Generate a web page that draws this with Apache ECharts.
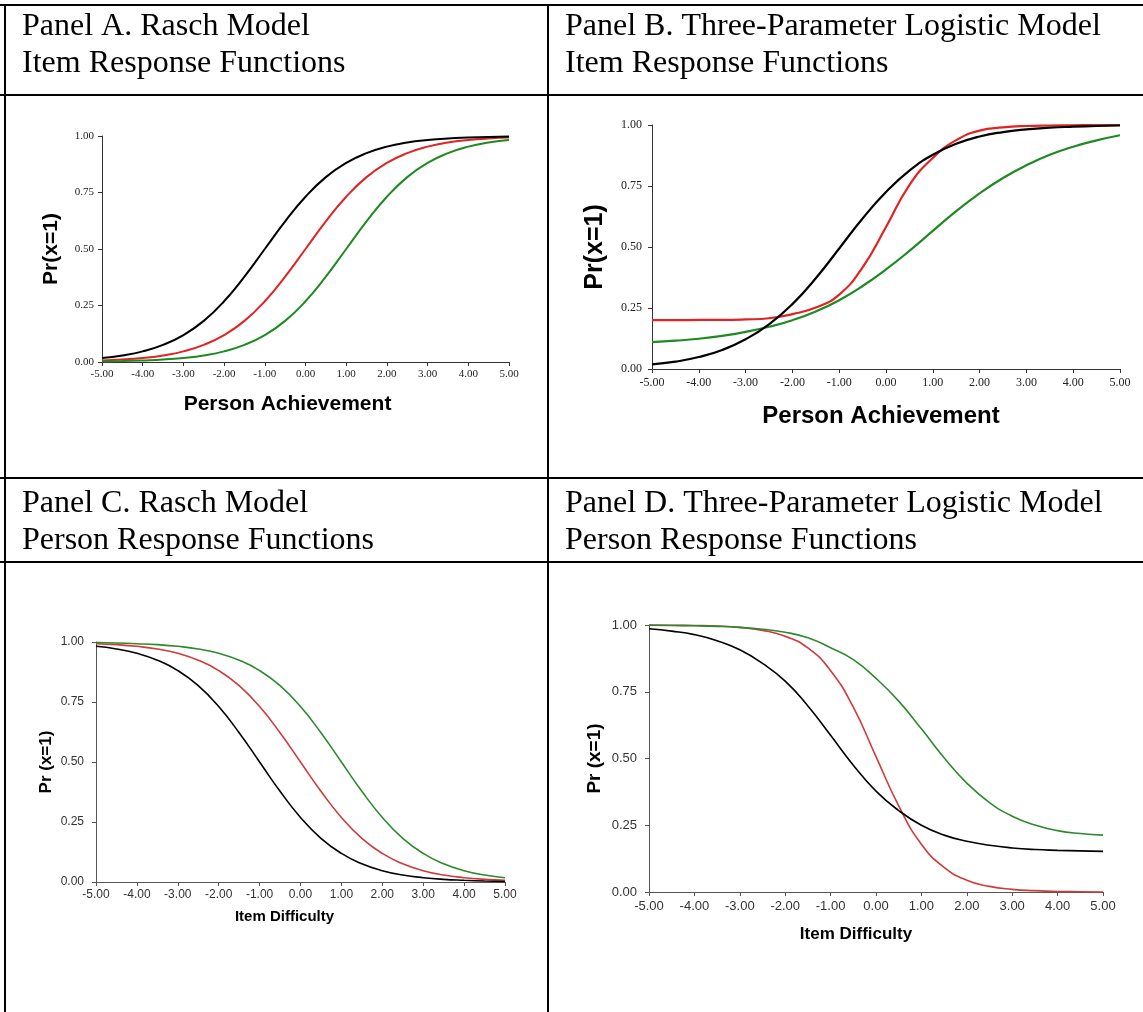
<!DOCTYPE html>
<html>
<head>
<meta charset="utf-8">
<title>Rasch and 3PL response functions</title>
<script src="https://cdn.jsdelivr.net/npm/echarts@6/dist/echarts.min.js"></script>
<style>
  html, body { margin: 0; padding: 0; background: #fff; }
  #chart { width: 1143px; height: 1012px; }
</style>
</head>
<body>
<div id="chart"></div>
<script>
// Ability / difficulty grid shared by every curve (logit scale)
const theta = [-5, -4.5, -4, -3.5, -3, -2.5, -2, -1.5, -1, -0.5, 0, 0.5, 1, 1.5, 2, 2.5, 3, 3.5, 4, 4.5, 5];

// Panel A: Rasch item response functions
const raschItemBlack = [0.018, 0.029, 0.047, 0.076, 0.119, 0.182, 0.269, 0.378, 0.500, 0.622, 0.731, 0.818, 0.881, 0.924, 0.953, 0.971, 0.982, 0.989, 0.993, 0.996, 0.998];
const raschItemRed   = [0.007, 0.011, 0.018, 0.029, 0.047, 0.076, 0.119, 0.182, 0.269, 0.378, 0.500, 0.622, 0.731, 0.818, 0.881, 0.924, 0.953, 0.971, 0.982, 0.989, 0.993];
const raschItemGreen = [0.002, 0.004, 0.007, 0.011, 0.018, 0.029, 0.047, 0.076, 0.119, 0.182, 0.269, 0.378, 0.500, 0.622, 0.731, 0.818, 0.881, 0.924, 0.953, 0.971, 0.982];

// Panel B: three-parameter logistic item response functions
const plItemBlack = [0.019, 0.030, 0.049, 0.078, 0.122, 0.183, 0.266, 0.372, 0.494, 0.617, 0.725, 0.813, 0.878, 0.923, 0.953, 0.971, 0.982, 0.989, 0.993, 0.996, 0.998];
const plItemRed   = [0.200, 0.200, 0.201, 0.201, 0.203, 0.208, 0.225, 0.252, 0.305, 0.417, 0.582, 0.754, 0.865, 0.938, 0.977, 0.990, 0.996, 0.998, 0.999, 1.000, 1.000];
const plItemGreen = [0.110, 0.116, 0.124, 0.136, 0.152, 0.173, 0.200, 0.236, 0.282, 0.340, 0.408, 0.484, 0.566, 0.647, 0.720, 0.783, 0.835, 0.878, 0.911, 0.937, 0.958];

// Panel C: Rasch person response functions
const raschPersonBlack = [0.982, 0.971, 0.953, 0.924, 0.881, 0.818, 0.731, 0.622, 0.500, 0.378, 0.269, 0.182, 0.119, 0.076, 0.047, 0.029, 0.018, 0.011, 0.007, 0.004, 0.002];
const raschPersonRed   = [0.993, 0.989, 0.982, 0.971, 0.953, 0.924, 0.881, 0.818, 0.731, 0.622, 0.500, 0.378, 0.269, 0.182, 0.119, 0.076, 0.047, 0.029, 0.018, 0.011, 0.007];
const raschPersonGreen = [0.998, 0.996, 0.993, 0.989, 0.982, 0.971, 0.953, 0.924, 0.881, 0.818, 0.731, 0.622, 0.500, 0.378, 0.269, 0.182, 0.119, 0.076, 0.047, 0.029, 0.018];

// Panel D: three-parameter logistic person response functions
const plPersonBlack = [0.986, 0.977, 0.964, 0.941, 0.907, 0.856, 0.790, 0.697, 0.587, 0.475, 0.378, 0.305, 0.250, 0.213, 0.190, 0.175, 0.165, 0.159, 0.156, 0.154, 0.152];
const plPersonRed   = [1.000, 0.999, 0.998, 0.996, 0.991, 0.980, 0.958, 0.914, 0.829, 0.692, 0.507, 0.323, 0.179, 0.092, 0.044, 0.021, 0.010, 0.005, 0.002, 0.001, 0.000];
const plPersonGreen = [0.999, 0.998, 0.997, 0.995, 0.991, 0.984, 0.973, 0.952, 0.915, 0.870, 0.800, 0.715, 0.611, 0.503, 0.408, 0.335, 0.284, 0.251, 0.230, 0.219, 0.213];

// Axis ticks
const xTicks = { min: -5, max: 5, interval: 1 };
const yTicks = { min: 0, max: 1, interval: 0.25 };

// Table cell headings
const headings = [
  ['Panel A. Rasch Model', 'Item Response Functions'],
  ['Panel B. Three-Parameter Logistic Model', 'Item Response Functions'],
  ['Panel C. Rasch Model', 'Person Response Functions'],
  ['Panel D. Three-Parameter Logistic Model', 'Person Response Functions']
];
const xTitles = ['Person Achievement', 'Person Achievement', 'Item Difficulty', 'Item Difficulty'];
const yTitles = ['Pr(x=1)', 'Pr(x=1)', 'Pr (x=1)', 'Pr (x=1)'];

const SERIF = '"Liberation Serif", "Times New Roman", serif';
const SANS = '"Liberation Sans", Arial, sans-serif';
const fmt2 = v => v.toFixed(2);

// Per-panel look: plot rectangle, fonts and gaps
const panels = [
  { grid: { left: 102, top: 136, width: 407, height: 226 }, tickFont: SERIF, tickSize: 11, tickColor: '#222', axisColor: '#333',
    xName: 21, xGap: 32, xShift: 36, yName: 21, yGap: 40, lw: 2, red: '#e02426', green: '#1f8a22', xMargin: 7, yMargin: 8 },
  { grid: { left: 652, top: 125, width: 468, height: 244 }, tickFont: SERIF, tickSize: 12, tickColor: '#222', axisColor: '#333',
    xName: 24, xGap: 35, xShift: 10, yName: 25, yGap: 44, lw: 2.2, red: '#e02426', green: '#1f8a22', xMargin: 8, yMargin: 10 },
  { grid: { left: 96, top: 642, width: 409, height: 240 }, tickFont: SANS, tickSize: 12, tickColor: '#333', axisColor: '#555',
    xName: 15, xGap: 27, xShift: 32, yName: 17, yGap: 41, lw: 1.6, red: '#d13a3a', green: '#2d8a2d', xMargin: 7, yMargin: 12 },
  { grid: { left: 649, top: 625, width: 454, height: 267 }, tickFont: SANS, tickSize: 13, tickColor: '#333', axisColor: '#555',
    xName: 17, xGap: 34, xShift: 40, yName: 19, yGap: 45, lw: 1.6, red: '#d13a3a', green: '#2d8a2d', xMargin: 8, yMargin: 12 }
];

const curves = [
  [raschItemBlack, raschItemRed, raschItemGreen],
  [plItemBlack, plItemRed, plItemGreen],
  [raschPersonBlack, raschPersonRed, raschPersonGreen],
  [plPersonBlack, plPersonRed, plPersonGreen]
];

const grids = [], xAxes = [], yAxes = [], series = [];
panels.forEach((p, i) => {
  grids.push(Object.assign({ containLabel: false }, p.grid));
  const axisLine = { show: true, onZero: false, lineStyle: { color: p.axisColor, width: 1 } };
  const axisTick = { show: true, length: 4, lineStyle: { color: p.axisColor, width: 1 } };
  xAxes.push(Object.assign({
    gridIndex: i, type: 'value',
    name: xTitles[i], nameLocation: 'middle', nameGap: p.xGap,
    nameTextStyle: { fontFamily: SANS, fontWeight: 'bold', fontSize: p.xName, color: '#000', padding: [0, p.xShift, 0, 0] },
    axisLine, axisTick, splitLine: { show: false },
    axisLabel: { formatter: fmt2, fontFamily: p.tickFont, fontSize: p.tickSize, color: p.tickColor, margin: p.xMargin, showMinLabel: true, showMaxLabel: true }
  }, xTicks));
  yAxes.push(Object.assign({
    gridIndex: i, type: 'value',
    name: yTitles[i], nameLocation: 'middle', nameGap: p.yGap,
    nameTextStyle: { fontFamily: SANS, fontWeight: 'bold', fontSize: p.yName, color: '#000' },
    axisLine, axisTick, splitLine: { show: false },
    axisLabel: { formatter: fmt2, fontFamily: p.tickFont, fontSize: p.tickSize, color: p.tickColor, margin: p.yMargin }
  }, yTicks));
  const colors = ['#000000', p.red, p.green];
  curves[i].forEach((vals, k) => {
    series.push({
      type: 'line', xAxisIndex: i, yAxisIndex: i,
      data: theta.map((t, j) => [t, vals[j]]),
      smooth: true, showSymbol: false, clip: false, silent: true,
      lineStyle: { color: colors[k], width: p.lw },
      z: k === 0 ? 3 : 2
    });
  });
});

// Table rules and cell headings
const W = 1143, H = 1012;
const rule = (x1, y1, x2, y2) => ({ type: 'line', shape: { x1, y1, x2, y2 }, style: { stroke: '#000', lineWidth: 2 }, silent: true });
const headingPos = [
  { x: 22, y: 27 }, { x: 565, y: 27 },
  { x: 22, y: 504 }, { x: 565, y: 504 }
];
const graphics = [
  rule(0, 5, W, 5), rule(0, 95, W, 95), rule(0, 478, W, 478), rule(0, 562, W, 562),
  rule(5, 4, 5, H), rule(548, 4, 548, H)
];
headings.forEach((lines, i) => {
  lines.forEach((txt, k) => {
    graphics.push({
      type: 'text', silent: true,
      style: { x: headingPos[i].x, y: headingPos[i].y + k * 37, text: txt, font: '32px ' + SERIF, fill: '#000', textVerticalAlign: 'middle' }
    });
  });
});

const chart = echarts.init(document.getElementById('chart'), null, { renderer: 'canvas' });
chart.setOption({
  backgroundColor: '#ffffff',
  animation: false,
  grid: grids, xAxis: xAxes, yAxis: yAxes, series,
  graphic: graphics
});
</script>
</body>
</html>
